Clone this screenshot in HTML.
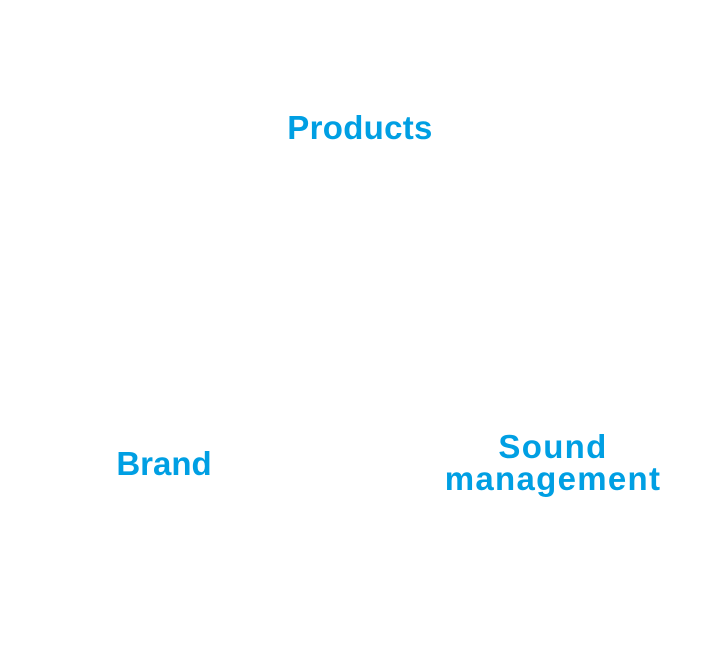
<!DOCTYPE html>
<html><head><meta charset="utf-8"><style>
html,body{margin:0;padding:0;background:#fff;}
body{width:718px;height:663px;position:relative;overflow:hidden;font-family:"Liberation Sans",Arial,sans-serif;font-weight:bold;color:#009fe3;}
.l{position:absolute;font-size:33px;line-height:32px;text-align:center;white-space:nowrap;transform:translate(-50%,-50%);}
</style></head><body>
<div class="l" style="left:360px;top:128px;letter-spacing:0.3px">Products</div>
<div class="l" style="left:164px;top:464px;">Brand</div>
<div class="l" style="left:553px;top:463px;letter-spacing:1.3px">Sound<br>management</div>
</body></html>
